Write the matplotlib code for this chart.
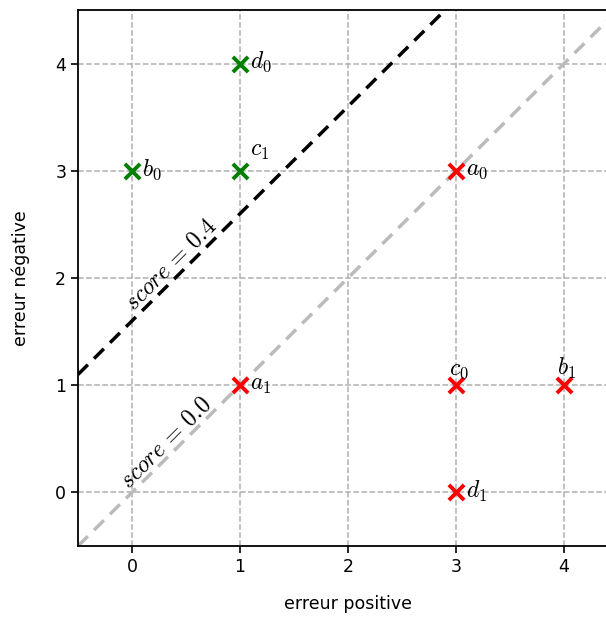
import matplotlib
matplotlib.use("Agg")
import matplotlib.pyplot as plt
import numpy as np

plt.rcParams["mathtext.fontset"] = "cm"
plt.rcParams["font.family"] = ["DejaVu Sans"]

# points (erreur positive, erreur negative)
good_names = ["b_0", "d_0", "c_1"]
good_x = [0, 1, 1]
good_y = [3, 4, 3]
bad_names = ["a_0", "a_1", "c_0", "b_1", "d_1"]
bad_x = [3, 1, 3, 4, 3]
bad_y = [3, 1, 1, 1, 0]
# label placement: "r" right, "u" up, "ur" up-right
good_pos = ["r", "r", "ur"]
bad_pos = ["r", "r", "u", "u", "r"]

score_offsets = [0.0, 1.6]
score_labels = [r"$score\,=\,0.0$", r"$score\,=\,0.4$"]

fig = plt.figure(figsize=(6.06, 6.23), dpi=100)
ax = fig.add_axes([78 / 606, 77 / 623, 540 / 606, 536 / 623])
ax.set_xlim(-0.5, 4.5)
ax.set_ylim(-0.5, 4.5)
ax.grid(True, color="#b0b0b0", linestyle="--", linewidth=1.1)
ax.set_axisbelow(True)
ax.set_xticks([0, 1, 2, 3, 4])
ax.set_yticks([0, 1, 2, 3, 4])
ax.tick_params(labelsize=12.5, length=5, width=1.2)
for s in ax.spines.values():
    s.set_linewidth(1.3)

xs = np.array([-0.5, 4.5])
ax.plot(xs, xs + score_offsets[0], color="#bbbbbb", linestyle="--", linewidth=2.5, dashes=(4, 2.5))
ax.plot(xs, xs + score_offsets[1], color="black", linestyle="--", linewidth=2.5, dashes=(4, 2.5))

ax.text(0.31, 0.47, score_labels[0], rotation=45, ha="center", va="center",
        fontsize=17, rotation_mode="anchor")
ax.text(0.36, 2.13, score_labels[1], rotation=45, ha="center", va="center",
        fontsize=17, rotation_mode="anchor")

ax.scatter(good_x, good_y, marker="x", s=120, color="green", linewidths=2.8, zorder=3)
ax.scatter(bad_x, bad_y, marker="x", s=120, color="red", linewidths=2.8, zorder=3)


def label(x, y, name, pos):
    if pos == "r":
        ax.annotate(f"${name}$", (x, y), xytext=(7, 1), textcoords="offset points",
                    ha="left", va="center", fontsize=17)
    elif pos == "u":
        ax.annotate(f"${name}$", (x, y), xytext=(2, 3), textcoords="offset points",
                    ha="center", va="bottom", fontsize=17)
    else:
        ax.annotate(f"${name}$", (x, y), xytext=(7, 6), textcoords="offset points",
                    ha="left", va="bottom", fontsize=17)


for x, y, n, p in zip(good_x, good_y, good_names, good_pos):
    label(x, y, n, p)
for x, y, n, p in zip(bad_x, bad_y, bad_names, bad_pos):
    label(x, y, n, p)

ax.set_xlabel("erreur positive", fontsize=12.5, labelpad=14)
ax.set_ylabel("erreur négative", fontsize=12.5, labelpad=18)

fig.savefig("out.png", dpi=100)
